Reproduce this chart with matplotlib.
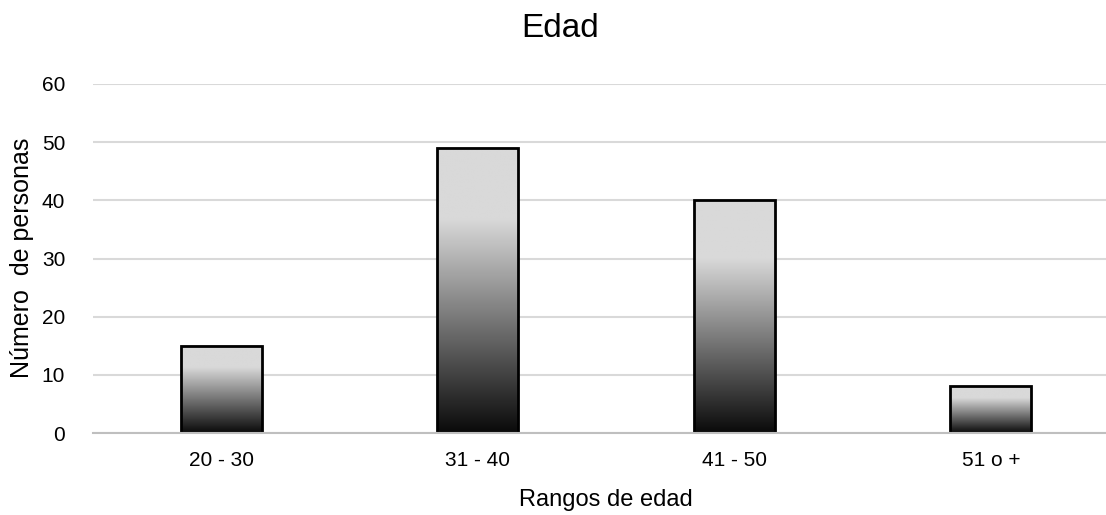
import numpy as np
import matplotlib
matplotlib.use("Agg")
import matplotlib.pyplot as plt
from matplotlib.colors import LinearSegmentedColormap

# Datos del gráfico
categorias = ["20 - 30", "31 - 40", "41 - 50", "51 o +"]
personas = [15, 49, 40, 8]

plt.rcParams["font.family"] = ["Liberation Sans", "DejaVu Sans"]

fig = plt.figure(figsize=(11.06, 5.15), dpi=100)
ax = fig.add_axes([0.0841, 0.1592, 0.9277, 0.6777])

x = np.arange(len(categorias))
ancho = 0.315

# degradado: negro abajo, gris claro arriba
cmap = LinearSegmentedColormap.from_list(
    "grad", [(0, "#0a0a0a"), (0.75, "#d9d9d9"), (1, "#d9d9d9")])
grad = np.linspace(0, 1, 256).reshape(-1, 1)

barras = ax.bar(x, personas, width=ancho, color="none",
                edgecolor="black", linewidth=2, zorder=3)
for b in barras:
    x0, w, h = b.get_x(), b.get_width(), b.get_height()
    ax.imshow(grad, cmap=cmap, origin="lower", aspect="auto",
              extent=[x0, x0 + w, 0, h], zorder=2, interpolation="bilinear")

ax.set_xlim(-0.5, len(categorias) - 0.5)
ax.set_ylim(0, 60)
ax.set_yticks(range(0, 61, 10))
ax.set_xticks(x)
ax.set_xticklabels(categorias)

ax.grid(axis="y", color="#d9d9d9", linewidth=1.5, zorder=0)
ax.set_axisbelow(True)
for s in ["top", "right", "left"]:
    ax.spines[s].set_visible(False)
ax.spines["bottom"].set_color("#bfbfbf")
ax.spines["bottom"].set_linewidth(1.5)
ax.spines["bottom"].set_zorder(4)
ax.tick_params(axis="both", length=0, labelsize=15, colors="#000000")
ax.tick_params(axis="x", pad=13)
ax.tick_params(axis="y", pad=20)

fig.text(0.548, 0.029, "Rangos de edad", ha="center", va="center", fontsize=17)
fig.text(0.0195, 0.499, "Número  de personas", ha="center", va="center",
         rotation=90, fontsize=18)
fig.text(0.506, 0.945, "Edad", ha="center", va="center", fontsize=24)

fig.savefig("out.png", dpi=100)
